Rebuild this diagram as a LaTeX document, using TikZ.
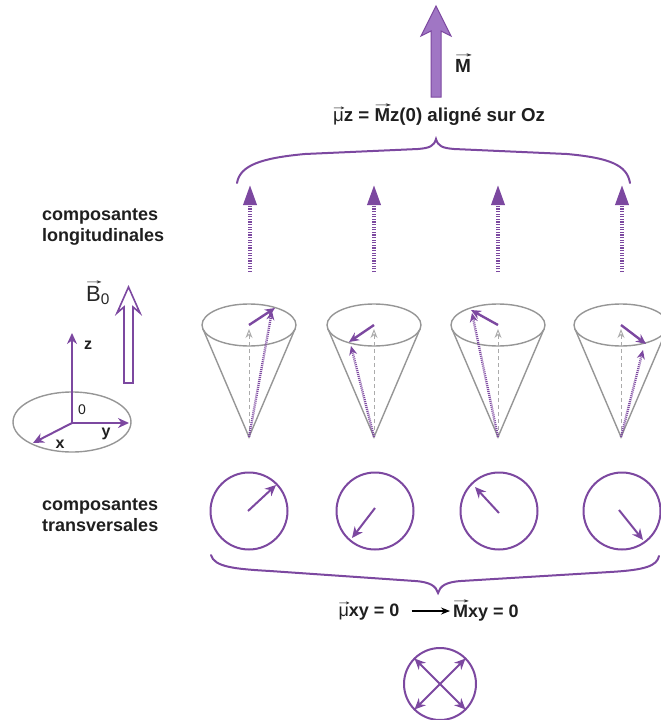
\documentclass[tikz,border=0pt]{standalone}
\usepackage{graphicx}
\usepackage{fontspec}
\setmainfont{Liberation Sans}
\newfontfamily\pfeilfont{DejaVu Sans}
\usetikzlibrary{arrows.meta,positioning}
\definecolor{lila}{RGB}{124,72,160}
\definecolor{lilafill}{RGB}{160,118,196}
\definecolor{kegel}{RGB}{150,150,150}
\newcommand{\vecto}[1]{\setbox0\hbox{#1}\leavevmode\rlap{\raisebox{\dimexpr\ht0+1.5pt\relax}{\resizebox{1.1\wd0}{3.5pt}{\pfeilfont\mdseries →}}}\box0}

\tikzset{
  txt/.style={font=\fontsize{18}{21}\selectfont\bfseries, text=black!88, align=left, inner sep=0pt},
  pfeil/.style={draw=lila, line width=2pt, -{Stealth[length=11pt,width=10pt]}},
  klammer/.style={draw=lila, line width=2pt, line cap=round},
  longi/.style={draw=lila, line width=3.5pt, dash pattern=on 1.3pt off 1.3pt, -{Triangle[length=20pt,width=13pt]}},
  kegellinie/.style={draw=kegel, line width=1.4pt},
  achse/.style={draw=kegel!80, line width=0.9pt, dash pattern=on 4pt off 3pt, -{Stealth[open,length=9pt,width=7pt]}},
  spin/.style={draw=lila, line width=2.4pt, -{Stealth[length=10pt,width=9pt]}},
  spindot/.style={draw=lila, line width=2.4pt, dash pattern=on 1pt off 1pt, -{Stealth[length=9pt,width=8pt]}},
  kreis/.style={circle, draw=lila, line width=2pt, minimum size=77pt, inner sep=0pt}
}

\begin{document}
\begin{tikzpicture}[x=1pt,y=-1pt]
\useasboundingbox (0,0) rectangle (661,720);
\draw[fill=lilafill, draw=lila, line width=1pt] (431,97) -- (431,31) -- (421,36) -- (436,6) -- (451,36) -- (441,31) -- (441,97) -- cycle;
\node[txt, font=\fontsize{19}{21}\selectfont\bfseries] (mvec) at (463,63) {\vecto{M}};
\node[txt, font=\fontsize{18.7}{21}\selectfont\bfseries] (mz) at (439,115) {{\mdseries\vecto{μ}}z = \vecto{M}z(0) aligné sur Oz};
\draw[klammer] (237,183) .. controls (240,165) and (262,158) .. (305,154) -- (418,149) .. controls (430,148) and (434,146) .. (436,139) .. controls (438,146) and (442,148) .. (454,149) -- (567,154) .. controls (610,158) and (627,165) .. (630,183);
\node[txt, anchor=west] (longtxt) at (42,227) {composantes\\longitudinales};
\foreach \x [count=\i] in {250,374,498,622} {
  \coordinate (lu\i) at (\x,272);
  \coordinate (lo\i) at (\x,185);
  \draw[longi] (lu\i) -- (lo\i);
}
\foreach \cx/\sx/\sy/\dx/\dy [count=\i] in {249/275/308/272/311, 374/349/342/351/346, 498/471/310/472/313, 621/646/344/643/350} {
  \coordinate (apex\i) at (\cx,437);
  \coordinate (mid\i) at (\cx,325);
  \coordinate (ax\i) at (\cx,329);
  \draw[kegellinie] (mid\i) ellipse [x radius=47, y radius=21];
  \draw[kegellinie] ({\cx-46},329) -- (apex\i) -- ({\cx+46},329);
  \draw[achse] (apex\i) -- (ax\i);
  \draw[spin] (mid\i) -- (\sx,\sy);
  \draw[spindot] (apex\i) -- (\dx,\dy);
}
\draw[draw=lila, fill=white, line width=1.6pt] (124,383) -- (124,307) -- (117,313) -- (128.5,287) -- (140,313) -- (133,307) -- (133,383) -- cycle;
\node[font=\fontsize{22}{24}\selectfont, text=black!85, inner sep=0pt] (bnull) at (98,293) {\vecto{B}\textsubscript{0}};
\coordinate (o) at (72,423);
\coordinate (z) at (72,333);
\coordinate (y) at (129,423);
\coordinate (x) at (33,443);
\draw[kegellinie] (72,422) ellipse [x radius=59, y radius=30];
\draw[pfeil] (o) -- (z);
\draw[pfeil] (o) -- (y);
\draw[pfeil] (o) -- (x);
\node[txt, font=\fontsize{16}{18}\selectfont\bfseries] (zl) at (88,345) {z};
\node[txt, font=\fontsize{16}{18}\selectfont\bfseries] (yl) at (106,434) {y};
\node[txt, font=\fontsize{16}{18}\selectfont\bfseries] (xl) at (60,444) {x};
\node[txt, font=\fontsize{14}{16}\selectfont] (nl) at (82,410) {0};
\node[txt, anchor=west] (transtxt) at (42,515) {composantes\\transversales};
\foreach \cx/\ax/\ay/\ex/\ey [count=\i] in {249/248/511/276/485, 375/375/508/352/538, 499/499/513/475/487, 622/619/510/643/540} {
  \node[kreis] (k\i) at (\cx,511) {};
  \coordinate (ka\i) at (\ax,\ay);
  \coordinate (ke\i) at (\ex,\ey);
  \draw[pfeil] (ka\i) -- (ke\i);
}
\draw[klammer] (211,555) .. controls (214,567) and (235,569) .. (270,571) -- (415,581) .. controls (430,582) and (436,586) .. (438,593) .. controls (440,586) and (446,582) .. (461,581) -- (610,572) .. controls (645,570) and (657,566) .. (659,556);
\node[txt] (muxy) at (369,611) {{\mdseries\vecto{μ}}xy = 0};
\node[txt] (mxy) at (486,611) {\vecto{M}xy = 0};
\draw[line width=1.2pt, -{Stealth[length=9pt,width=7pt]}] ([xshift=12pt]muxy.east) -- ([xshift=-3pt]mxy.west);
\node[kreis, minimum size=72pt] (mix) at (440,684) {};
\foreach \a in {45,135,225,315} {
  \draw[pfeil, shorten >=1pt] (mix.center) -- (mix.\a);
}
\end{tikzpicture}
\end{document}
